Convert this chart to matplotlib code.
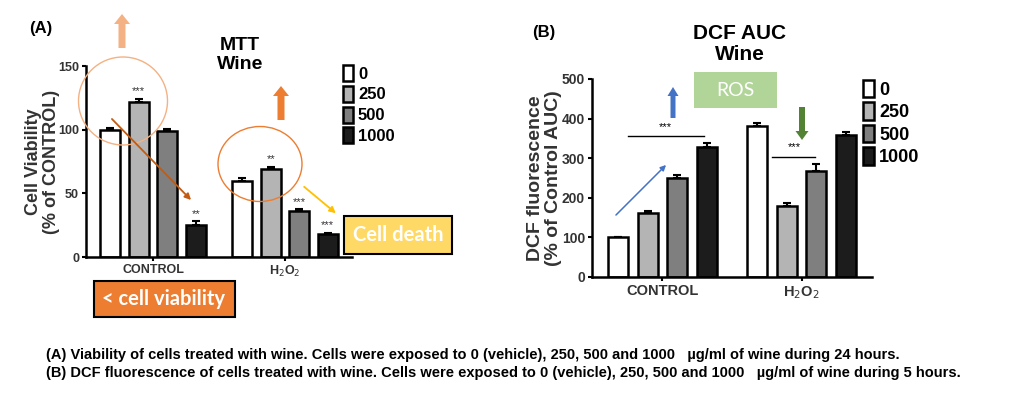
import matplotlib.pyplot as plt
import numpy as np
from matplotlib.patches import Ellipse, Rectangle, FancyArrow

plt.rcParams['font.family'] = ['Liberation Sans', 'DejaVu Sans']

# data
groups = ['CONTROL', 'H$_2$O$_2$']
doses = ['0', '250', '500', '1000']
bar_colors = ['white', '#b4b4b4', '#7f7f7f', '#1c1c1c']

mtt_control = [100, 122, 99, 25]
mtt_control_err = [1, 2, 1.5, 3]
mtt_h2o2 = [60, 69, 36, 18]
mtt_h2o2_err = [2, 2, 1.5, 1]
mtt_stars_control = ['', '***', '', '**']
mtt_stars_h2o2 = ['', '**', '***', '***']

dcf_control = [100, 162, 250, 328]
dcf_control_err = [2, 5, 7, 10]
dcf_h2o2 = [382, 180, 268, 358]
dcf_h2o2_err = [8, 6, 17, 8]

caption_a = ("(A) Viability of cells treated with wine. Cells were exposed to 0 (vehicle), "
             "250, 500 and 1000   \u00b5g/ml of wine during 24 hours.")
caption_b = ("(B) DCF fluorescence of cells treated with wine. Cells were exposed to 0 (vehicle), "
             "250, 500 and 1000   \u00b5g/ml of wine during 5 hours.")

W, H = 1024, 396


def px_axes(fig, left, top, right, bottom):
    return fig.add_axes([left / W, 1 - bottom / H, (right - left) / W, (bottom - top) / H])


def draw_bars(ax, vals_list, errs_list, offset, width, tick_size, star_size, stars_list=None):
    for g, (vals, errs) in enumerate(zip(vals_list, errs_list)):
        for i in range(4):
            x = g + (i - 1.5) * offset
            ax.bar(x, vals[i], width, color=bar_colors[i], edgecolor='black', linewidth=1.8,
                   label=doses[i] if g == 0 else None, zorder=2)
            ax.errorbar(x, vals[i], yerr=[[0], [errs[i]]], color='black', capsize=3,
                        elinewidth=1.5, capthick=1.5, zorder=1)
            if stars_list is not None and stars_list[g][i]:
                ax.text(x, vals[i] + errs[i] + 2, stars_list[g][i], ha='center', va='bottom',
                        fontsize=star_size, color='#333333')
    ax.set_xlim(-0.507, 1.507)
    ax.set_xticks([0, 1])
    ax.set_xticklabels(groups, fontweight='bold', fontsize=tick_size, color='#333333')
    for s in ['top', 'right']:
        ax.spines[s].set_visible(False)
    for s in ['left', 'bottom']:
        ax.spines[s].set_linewidth(1.8)
    ax.tick_params(width=1.5, length=3, pad=2)


def style_yticks(ax, size):
    for lab in ax.get_yticklabels():
        lab.set_fontweight('bold')
        lab.set_color('#333333')
        lab.set_fontsize(size)


fig = plt.figure(figsize=(W / 100, H / 100), dpi=100)

# panel A
ax1 = px_axes(fig, 86, 66, 352, 257)
draw_bars(ax1, [mtt_control, mtt_h2o2], [mtt_control_err, mtt_h2o2_err], 0.216, 0.15, 9, 8,
          [mtt_stars_control, mtt_stars_h2o2])
ax1.set_ylim(0, 150)
ax1.set_yticks([0, 50, 100, 150])
style_yticks(ax1, 9)
ax1.set_ylabel('Cell Viability\n(% of CONTROL)', fontweight='bold', fontsize=13,
               linespacing=1.1, color='#333333')
ax1.yaxis.set_label_coords(-0.098, 0.5)
ax1.legend(loc='upper left', bbox_to_anchor=(343 / W, 1 - 65 / H), bbox_transform=fig.transFigure,
           frameon=False, prop={'weight': 'bold', 'size': 12}, handlelength=0.6, handleheight=1.1,
           handletextpad=0.3, labelspacing=0.25, borderaxespad=0, borderpad=0)

# panel B
ax2 = px_axes(fig, 592, 79, 872, 277)
draw_bars(ax2, [dcf_control, dcf_h2o2], [dcf_control_err, dcf_h2o2_err], 0.214, 0.144, 10.5, 8)
ax2.set_ylim(0, 500)
ax2.set_yticks([0, 100, 200, 300, 400, 500])
style_yticks(ax2, 10)
ax2.set_ylabel('DCF fluorescence\n(% of Control AUC)', fontweight='bold', fontsize=14,
               linespacing=1.1, color='#333333')
ax2.yaxis.set_label_coords(-0.107, 0.5)
ax2.legend(loc='upper left', bbox_to_anchor=(863 / W, 1 - 80 / H), bbox_transform=fig.transFigure,
           frameon=False, prop={'weight': 'bold', 'size': 13}, handlelength=0.6, handleheight=1.1,
           handletextpad=0.3, labelspacing=0.2, borderaxespad=0, borderpad=0)
# significance brackets
ax2.plot([-0.25, 0.3], [356, 356], color='black', lw=1)
ax2.text(0.02, 378, '***', ha='center', va='center', fontsize=8)
ax2.plot([0.79, 1.1], [303, 303], color='black', lw=1)
ax2.text(0.95, 327, '***', ha='center', va='center', fontsize=8)

# overlay annotations in pixel coordinates
ov = fig.add_axes([0, 0, 1, 1])
ov.set_xlim(0, W)
ov.set_ylim(H, 0)
ov.axis('off')

ov.text(41, 28, '(A)', fontsize=12, fontweight='bold', ha='center', va='center')
ov.text(240, 55, 'MTT\nWine', fontsize=14, fontweight='bold', ha='center', va='center',
        linespacing=1.15)
ov.text(544, 33, '(B)', fontsize=12, fontweight='bold', ha='center', va='center')
ov.text(740, 44, 'DCF AUC\nWine', fontsize=15, fontweight='bold', ha='center', va='center',
        linespacing=1.1)

ov.add_patch(Ellipse((123, 101), 89, 88, fill=False, edgecolor='#f4b183', lw=1))
ov.add_patch(Ellipse((260, 164), 84, 75, fill=False, edgecolor='#ed7d31', lw=1))

ov.add_patch(FancyArrow(122, 48, 0, -34, width=7, head_width=16, head_length=10,
                        length_includes_head=True, color='#f4b183', lw=0))
ov.add_patch(FancyArrow(281, 120, 0, -34, width=7, head_width=16, head_length=10,
                        length_includes_head=True, color='#ed7d31', lw=0))
ov.annotate('', xy=(193, 202), xytext=(110, 117),
            arrowprops=dict(arrowstyle='-|>', color='#c55a11', lw=1.3, mutation_scale=9))
ov.annotate('', xy=(338, 215), xytext=(302, 185),
            arrowprops=dict(arrowstyle='-|>', color='#ffc000', lw=1.3, mutation_scale=9))

ov.add_patch(Rectangle((344, 216), 108, 38, facecolor='#ffd966', edgecolor='black', lw=1.5))
ov.text(398, 235, 'Cell death', fontsize=14.5, color='white', ha='center', va='center',
        family=['Lato', 'DejaVu Sans'], fontweight='bold')
ov.add_patch(Rectangle((94, 281), 141, 36, facecolor='#ed7d31', edgecolor='black', lw=1.5))
ov.text(164, 299, '< cell viability', fontsize=14.5, color='white', ha='center', va='center',
        family=['Lato', 'DejaVu Sans'], fontweight='bold')

ov.add_patch(Rectangle((694, 72), 83, 36, facecolor='#a9d18e', edgecolor='none', alpha=0.9))
ov.text(735, 90, 'ROS', fontsize=14, color='white', ha='center', va='center',
        family=['Lato', 'DejaVu Sans'])

ov.add_patch(FancyArrow(673, 118, 0, -31, width=5, head_width=11, head_length=9,
                        length_includes_head=True, color='#4472c4', lw=0))
ov.add_patch(FancyArrow(802, 107, 0, 33, width=6, head_width=13, head_length=9,
                        length_includes_head=True, color='#548235', lw=0))
ov.annotate('', xy=(668, 163), xytext=(614, 217),
            arrowprops=dict(arrowstyle='-|>', color='#4472c4', lw=1.1, mutation_scale=8))

ov.text(46, 355, caption_a, fontsize=10.5, fontweight='bold', ha='left', va='center')
ov.text(46, 373, caption_b, fontsize=10.5, fontweight='bold', ha='left', va='center')

fig.savefig('out.png', dpi=100)
